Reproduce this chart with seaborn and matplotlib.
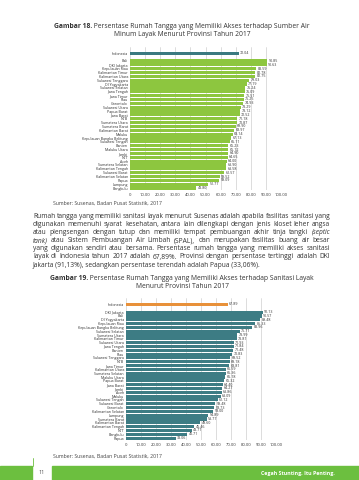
import pandas as pd
import seaborn as sns
import matplotlib.pyplot as plt
from matplotlib.patches import Rectangle

# gambar 18 : akses air minum layak 2017
prov_air = ['Bali', 'DKI Jakarta', 'Kepulauan Riau', 'Kalimantan Timur', 'Kalimantan Utara',
            'Sulawesi Tenggara', 'DI Yogyakarta', 'Sulawesi Selatan', 'Jawa Tengah', 'Jawa Timur',
            'Riau', 'Gorontalo', 'Sulawesi Utara', 'Papua Barat', 'Jawa Barat', 'NTB',
            'Sumatera Utara', 'Sumatera Barat', 'Kalimantan Barat', 'Maluku',
            'Kepulauan Bangka Belitung', 'Sulawesi Tengah', 'Banten', 'Maluku Utara', 'Jambi',
            'NTT', 'Aceh', 'Sumatera Selatan', 'Kalimantan Tengah', 'Sulawesi Barat',
            'Kalimantan Selatan', 'Papua', 'Lampung', 'Bengkulu']
nilai_air = [90.85, 90.63, 83.59, 82.78, 82.75, 79.03, 77.19, 76.24, 76.09, 75.51,
             75.25, 74.93, 73.29, 73.12, 72.52, 71.18, 70.87, 69.90, 68.97, 68.14,
             67.13, 66.11, 65.23, 65.12, 64.90, 64.65, 64.00, 63.90, 63.58, 62.57,
             59.52, 59.09, 51.77, 43.80]
indo_air = 72.04

# gambar 19 : akses sanitasi layak 2017
prov_san = ['DKI Jakarta', 'Bali', 'DI Yogyakarta', 'Kepulauan Riau', 'Kepulauan Bangka Belitung',
            'Sulawesi Selatan', 'Sumatera Utara', 'Kalimantan Timur', 'Sulawesi Utara',
            'Jawa Tengah', 'Banten', 'Riau', 'Sulawesi Tenggara', 'NTB', 'Jawa Timur',
            'Kalimantan Utara', 'Sumatera Selatan', 'Maluku Utara', 'Papua Barat', 'Jawa Barat',
            'Jambi', 'Aceh', 'Maluku', 'Sulawesi Tengah', 'Sulawesi Barat', 'Gorontalo',
            'Kalimantan Selatan', 'Lampung', 'Sumatera Barat', 'Kalimantan Barat',
            'Kalimantan Tengah', 'NTT', 'Bengkulu', 'Papua']
nilai_san = [91.13, 90.57, 89.48, 86.33, 83.96, 75.71, 73.99, 73.81, 71.93, 71.84,
             71.48, 70.83, 69.52, 69.18, 68.81, 66.59, 66.36, 66.18, 65.32, 64.40,
             64.27, 63.86, 63.09, 61.12, 59.48, 58.73, 58.00, 54.89, 53.77, 49.60,
             45.46, 43.71, 40.71, 33.06]
indo_san = 67.89

paragraf = [
    "Rumah tangga yang memiliki sanitasi layak menurut Susenas adalah apabila fasilitas sanitasi yang",
    "digunakan memenuhi syarat kesehatan, antara lain dilengkapi dengan jenis kloset leher angsa",
    "atau plengsengan dengan tutup dan memiliki tempat pembuangan akhir tinja tangki (septic",
    "tank) atau Sistem Pembuangan Air Limbah (SPAL), dan merupakan fasilitas buang air besar",
    "yang digunakan sendiri atau bersama. Persentase rumah tangga yang memiliki akses sanitasi",
    "layak di Indonesia tahun 2017 adalah 67,89%. Provinsi dengan persentase tertinggi adalah DKI",
    "Jakarta (91,13%), sedangkan persentase terendah adalah Papua (33,06%).",
]

sns.set_style('white')
plt.rcParams['font.family'] = ['Open Sans', 'DejaVu Sans']

W, H = 359, 480
fig = plt.figure(figsize=(W / 100, H / 100), dpi=100)
fig.patch.set_facecolor('white')
r = fig.canvas.get_renderer()


def fx(px):
    return px / W


def fy(px):
    return 1 - px / H


def judul(tebal, sisa, cx, y, size=4.9):
    # bold prefix + normal text, centered together
    a = fig.text(0, fy(y), tebal, fontsize=size, fontweight='bold', color='#333333', va='center')
    b = fig.text(0, fy(y), sisa, fontsize=size, color='#333333', va='center')
    wa = a.get_window_extent(r).width
    wb = b.get_window_extent(r).width
    x0 = cx - (wa + wb) / 2
    a.set_x(fx(x0))
    b.set_x(fx(x0 + wa))


def grafik(rect, prov, nilai, indo, warna, warna_indo, top):
    ax = fig.add_axes(rect)
    df = pd.DataFrame({'prov': ['Indonesia'] + prov,
                       'nilai': [indo] + nilai,
                       'grup': ['indo'] + ['prov'] * len(prov)})
    order = ['Indonesia', ' '] + prov
    sns.barplot(data=df, y='prov', x='nilai', hue='grup', order=order, orient='h',
                palette={'indo': warna_indo, 'prov': warna}, dodge=False, legend=False,
                width=0.82, saturation=1, linewidth=0, ax=ax)
    for c in ax.containers:
        ax.bar_label(c, fmt='%.2f', padding=1, fontsize=2.6, color='#333333')
    ax.set_xlim(0, 100)
    ax.set_ylim(len(order) - 0.5, top)
    ax.set_xticks(range(0, 101, 10))
    ax.set_xticklabels(['0'] + [f'{v:.2f}' for v in range(10, 101, 10)])
    ax.tick_params(axis='x', length=0, pad=2, labelsize=3, labelcolor='#333333')
    ax.tick_params(axis='y', length=0, pad=1.5, labelsize=2.6, labelcolor='#333333')
    ax.set_xlabel('')
    ax.set_ylabel('')
    ax.xaxis.grid(True, color='#cfcfcf', lw=0.5)
    ax.set_axisbelow(True)
    sns.despine(ax=ax, left=True, bottom=True)
    ax.patch.set_alpha(0)
    return ax


# ---- gambar 18
judul('Gambar 18.', ' Persentase Rumah Tangga yang Memiliki Akses terhadap Sumber Air', 182, 26.7)
judul('', 'Minum Layak Menurut Provinsi Tahun 2017', 182, 34.3)
grafik([fx(130), fy(190), fx(151), 142.9 / H], prov_air, nilai_air, indo_air,
       '#8DC63F', '#3B7A80', -1.6)
fig.text(fx(53), fy(203), 'Sumber: Susenas, Badan Pusat Statistik, 2017', fontsize=3.7,
         color='#444444', va='center')

# ---- paragraf rata kiri-kanan
x0, x1 = 33, 330
uk = 4.8
for i, baris in enumerate(paragraf):
    y = fy(216 + i * 8.2)
    kata = baris.split()
    if i == len(paragraf) - 1:
        fig.text(fx(x0), y, baris, fontsize=uk, color='#333333', va='center')
        continue
    objs = []
    for k in kata:
        gaya = 'italic' if k in ('(septic', 'tank)') else 'normal'
        objs.append(fig.text(0, y, k, fontsize=uk, color='#333333', va='center', style=gaya))
    lebar = [o.get_window_extent(r).width for o in objs]
    gap = (x1 - x0 - sum(lebar)) / (len(kata) - 1)
    x = x0
    for o, w in zip(objs, lebar):
        o.set_x(fx(x))
        x += w + gap

# ---- gambar 19
judul('Gambar 19.', ' Persentase Rumah Tangga yang Memiliki Akses terhadap Sanitasi Layak', 182, 278)
judul('', 'Menurut Provinsi Tahun 2017', 182, 287)
grafik([fx(126), fy(440), fx(150), 142 / H], prov_san, nilai_san, indo_san,
       '#3D7C84', '#E8913A', -1.7)
fig.text(fx(53), fy(456), 'Sumber: Susenas, Badan Pusat Statistik, 2017', fontsize=3.7,
         color='#444444', va='center')

# ---- footer
hijau = '#6CBF3F'
fig.patches.append(Rectangle((0, 0), fx(32), 14 / H, transform=fig.transFigure,
                             color=hijau, zorder=0))
fig.patches.append(Rectangle((fx(52), 0), 1 - fx(52), 14 / H, transform=fig.transFigure,
                             color=hijau, zorder=0))
fig.add_artist(plt.Line2D([fx(33), fx(33)], [fy(466), fy(458)], transform=fig.transFigure,
                          color=hijau, lw=0.6))
fig.text(fx(42), fy(473), '11', fontsize=4, color='#555555', ha='center', va='center')
fig.text(fx(335), fy(474), 'Cegah Stunting, Itu Penting.', fontsize=3.8, fontweight='bold',
         color='white', ha='right', va='center')

fig.savefig('out.png', dpi=100, facecolor='white')
